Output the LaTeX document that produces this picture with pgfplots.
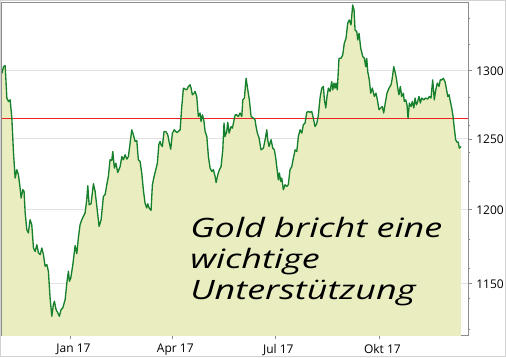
\documentclass[border=0pt]{standalone}
\usepackage{fontspec}
\usepackage{pgfplots}
\usepackage{pgfplotstable}
\pgfplotsset{compat=1.18}
\newfontfamily\osans{Open Sans}
\newfontfamily\hand{Open Sans}[FakeStretch=1.35]
\definecolor{fillc}{RGB}{233,237,192}
\definecolor{linec}{RGB}{22,128,44}
\definecolor{redc}{RGB}{235,35,35}
\definecolor{gridc}{RGB}{226,226,226}
\definecolor{framec}{RGB}{140,140,140}
\pgfplotstableread{
d v
-60.7 1298.3
-59.5 1303.2
-58.0 1303.9
-56.5 1279.8
-55.1 1277.3
-53.6 1278.5
-52.1 1265.1
-50.7 1241.0
-49.2 1222.2
-47.7 1228.0
-46.3 1224.5
-44.8 1215.2
-43.9 1208.2
-42.4 1214.0
-41.3 1212.8
-40.4 1198.9
-38.9 1186.3
-37.5 1184.1
-36.0 1193.2
-34.5 1189.8
-33.0 1173.9
-31.5 1171.6
-30.0 1176.1
-28.6 1170.6
-27.1 1169.4
-25.6 1173.9
-24.2 1169.4
-22.7 1161.6
-21.2 1162.7
-19.8 1158.3
-18.3 1140.6
-16.8 1128.6
-15.4 1136.2
-14.5 1138.4
-13.0 1133.0
-11.5 1130.9
-10.1 1128.6
-8.6 1133.0
-7.1 1134.1
-5.0 1139.5
-3.5 1150.5
-2.1 1158.3
-1.2 1151.6
0.0 1153.8
1.8 1162.7
3.8 1175.5
5.3 1170.1
6.7 1180.9
8.2 1189.8
9.7 1193.2
11.1 1195.5
12.6 1197.8
14.1 1207.0
15.0 1216.8
16.2 1203.5
17.9 1204.2
20.0 1218.2
21.5 1212.8
23.0 1202.4
25.0 1188.6
26.8 1193.2
28.8 1209.3
30.3 1210.5
31.8 1217.5
33.2 1223.3
34.7 1235.1
36.2 1234.6
37.1 1241.0
38.5 1229.2
39.8 1232.7
41.5 1226.1
43.6 1230.3
45.1 1237.4
46.5 1235.1
48.0 1238.7
49.5 1235.6
50.9 1237.4
52.4 1247.0
53.9 1256.6
55.3 1253.0
56.8 1248.2
58.3 1248.9
59.7 1235.1
61.2 1233.9
62.7 1225.7
64.1 1214.0
65.6 1204.7
67.1 1201.3
68.0 1204.2
69.2 1201.3
70.9 1199.6
72.1 1217.5
73.6 1223.3
75.1 1228.0
76.5 1232.7
77.8 1246.0
78.9 1248.2
79.8 1245.8
80.9 1244.6
82.4 1255.4
83.9 1255.4
85.7 1253.0
86.8 1248.2
88.3 1242.7
89.8 1254.2
91.3 1256.6
92.8 1255.4
93.6 1254.6
95.1 1255.4
96.6 1256.6
98.1 1273.9
99.5 1287.1
101.0 1286.4
102.5 1285.9
103.9 1288.4
105.4 1289.6
106.3 1287.1
107.4 1282.2
108.9 1283.4
109.8 1284.7
111.3 1281.0
112.7 1266.3
114.2 1268.8
115.1 1262.7
116.3 1267.5
117.5 1263.9
118.7 1255.4
120.2 1251.8
121.6 1237.4
123.1 1229.2
124.6 1226.8
126.0 1228.0
127.5 1223.3
128.4 1219.1
129.9 1224.5
131.3 1228.0
132.8 1230.3
134.3 1242.2
135.4 1261.5
136.3 1251.8
137.8 1255.4
138.7 1262.0
139.9 1254.2
141.6 1259.0
142.8 1257.8
144.0 1262.7
145.2 1267.5
146.7 1267.5
148.1 1266.3
149.6 1268.8
151.1 1266.3
152.0 1278.5
153.4 1279.8
154.9 1294.5
156.4 1285.9
157.8 1278.5
159.3 1266.3
161.3 1265.1
162.8 1263.9
163.7 1259.0
164.9 1254.2
166.4 1250.6
168.1 1242.2
170.2 1243.4
171.7 1249.4
173.2 1256.6
174.0 1249.4
175.2 1244.6
177.0 1249.4
178.5 1243.4
179.9 1242.2
181.1 1236.3
182.5 1226.8
183.4 1221.0
184.3 1225.7
185.5 1219.8
186.4 1222.2
187.8 1214.0
189.3 1217.5
190.8 1216.3
192.2 1217.5
193.7 1228.0
195.3 1230.3
196.7 1236.3
198.2 1242.2
199.7 1241.0
201.1 1251.8
202.6 1256.6
204.1 1254.2
205.5 1260.3
207.0 1261.5
208.5 1269.3
209.9 1270.0
211.4 1269.3
212.9 1270.0
214.3 1265.1
215.8 1259.0
217.3 1261.0
218.7 1266.8
220.3 1280.3
221.8 1287.1
223.2 1288.4
224.1 1278.5
225.3 1272.5
226.4 1281.0
227.6 1287.1
229.1 1284.7
230.6 1292.0
231.5 1285.9
232.6 1290.9
233.5 1287.1
234.4 1290.9
235.5 1285.9
237.0 1309.5
238.8 1309.5
240.3 1312.0
241.7 1320.9
243.2 1324.7
244.7 1336.2
246.1 1338.7
247.6 1334.9
249.1 1350.3
250.3 1346.4
251.2 1331.0
252.7 1329.7
253.6 1323.4
254.7 1328.5
256.2 1317.1
258.0 1310.8
259.4 1309.5
260.6 1303.2
261.5 1309.5
262.4 1299.5
263.8 1293.3
265.0 1283.4
266.5 1287.1
268.2 1281.0
269.7 1283.4
270.9 1278.5
272.4 1271.2
273.9 1272.5
275.3 1273.6
276.5 1268.8
277.9 1276.1
279.4 1283.4
281.2 1287.1
283.0 1289.6
284.1 1294.6
285.4 1303.2
286.5 1299.5
287.8 1294.0
288.9 1287.1
290.0 1282.2
291.2 1288.4
292.4 1281.0
293.9 1283.4
294.7 1277.3
296.0 1278.5
297.1 1274.8
298.0 1265.1
299.2 1276.1
300.7 1273.6
301.8 1277.3
303.1 1272.5
304.2 1279.8
305.4 1274.8
306.6 1277.3
307.7 1281.0
308.9 1276.1
310.1 1279.8
311.9 1278.5
313.6 1279.8
315.4 1279.0
316.8 1281.0
318.3 1279.8
319.8 1293.3
321.2 1278.5
322.5 1285.9
323.9 1290.9
325.4 1288.4
326.5 1293.3
327.8 1293.3
329.2 1294.5
330.7 1292.0
331.8 1287.1
333.1 1281.0
334.2 1282.2
335.4 1277.3
336.6 1272.5
337.8 1266.3
338.9 1257.8
340.1 1249.4
341.3 1247.7
342.4 1247.7
343.3 1243.4
344.8 1244.6
}\golddata
\begin{document}
\begin{tikzpicture}
\useasboundingbox (-1.5pt,-15.75pt) rectangle (378pt,252pt);
\draw[gray!35, line width=0.75pt] (-1.125pt,-15.375pt) rectangle (377.625pt,251.625pt);
\begin{axis}[
  at={(0,0)}, anchor=south west,
  scale only axis, width=349.5pt, height=249.75pt,
  xmin=-60.8, xmax=351,
  ymode=log, ymin=1116, ymax=1352,
  xtick={0,90,181,273}, xticklabels={Jan 17,Apr 17,Jul 17,Okt 17},
  ytick={1150,1200,1250,1300}, yticklabels={1150,1200,1250,1300},
  minor ytick={1120,1140,1160,1180,1220,1240,1260,1280,1320,1340},
  yticklabel pos=right, ytick pos=right, xtick pos=bottom,
  tick align=outside, major tick length=2.7pt, minor tick length=1.8pt,
  tick style={framec, line width=0.6pt},
  ymajorgrids, grid style={gridc, line width=0.75pt},
  axis line style={framec, line width=0.75pt},
  ticklabel style={font=\osans\fontsize{9}{10}\selectfont, text=black},
  xticklabel style={xshift=2pt},
  clip=true,
]
\addplot[fill=fillc, draw=none] table[x=d, y=v] {\golddata} \closedcycle;
\addplot[redc, line width=1pt] coordinates {(-60.8,1265) (351,1265)};
\addplot[linec, line width=1pt, line join=round] table[x=d, y=v] {\golddata};
\end{axis}
\begin{scope}[font=\hand\itshape\fontsize{20}{24}\selectfont]
\node[anchor=base west, inner sep=0pt] at (141pt,74.25pt) {Gold bricht eine};
\node[anchor=base west, inner sep=0pt] at (141pt,51pt) {wichtige};
\node[anchor=base west, inner sep=0pt] at (141pt,27.5pt) {Unterstützung};
\end{scope}
\end{tikzpicture}
\end{document}
